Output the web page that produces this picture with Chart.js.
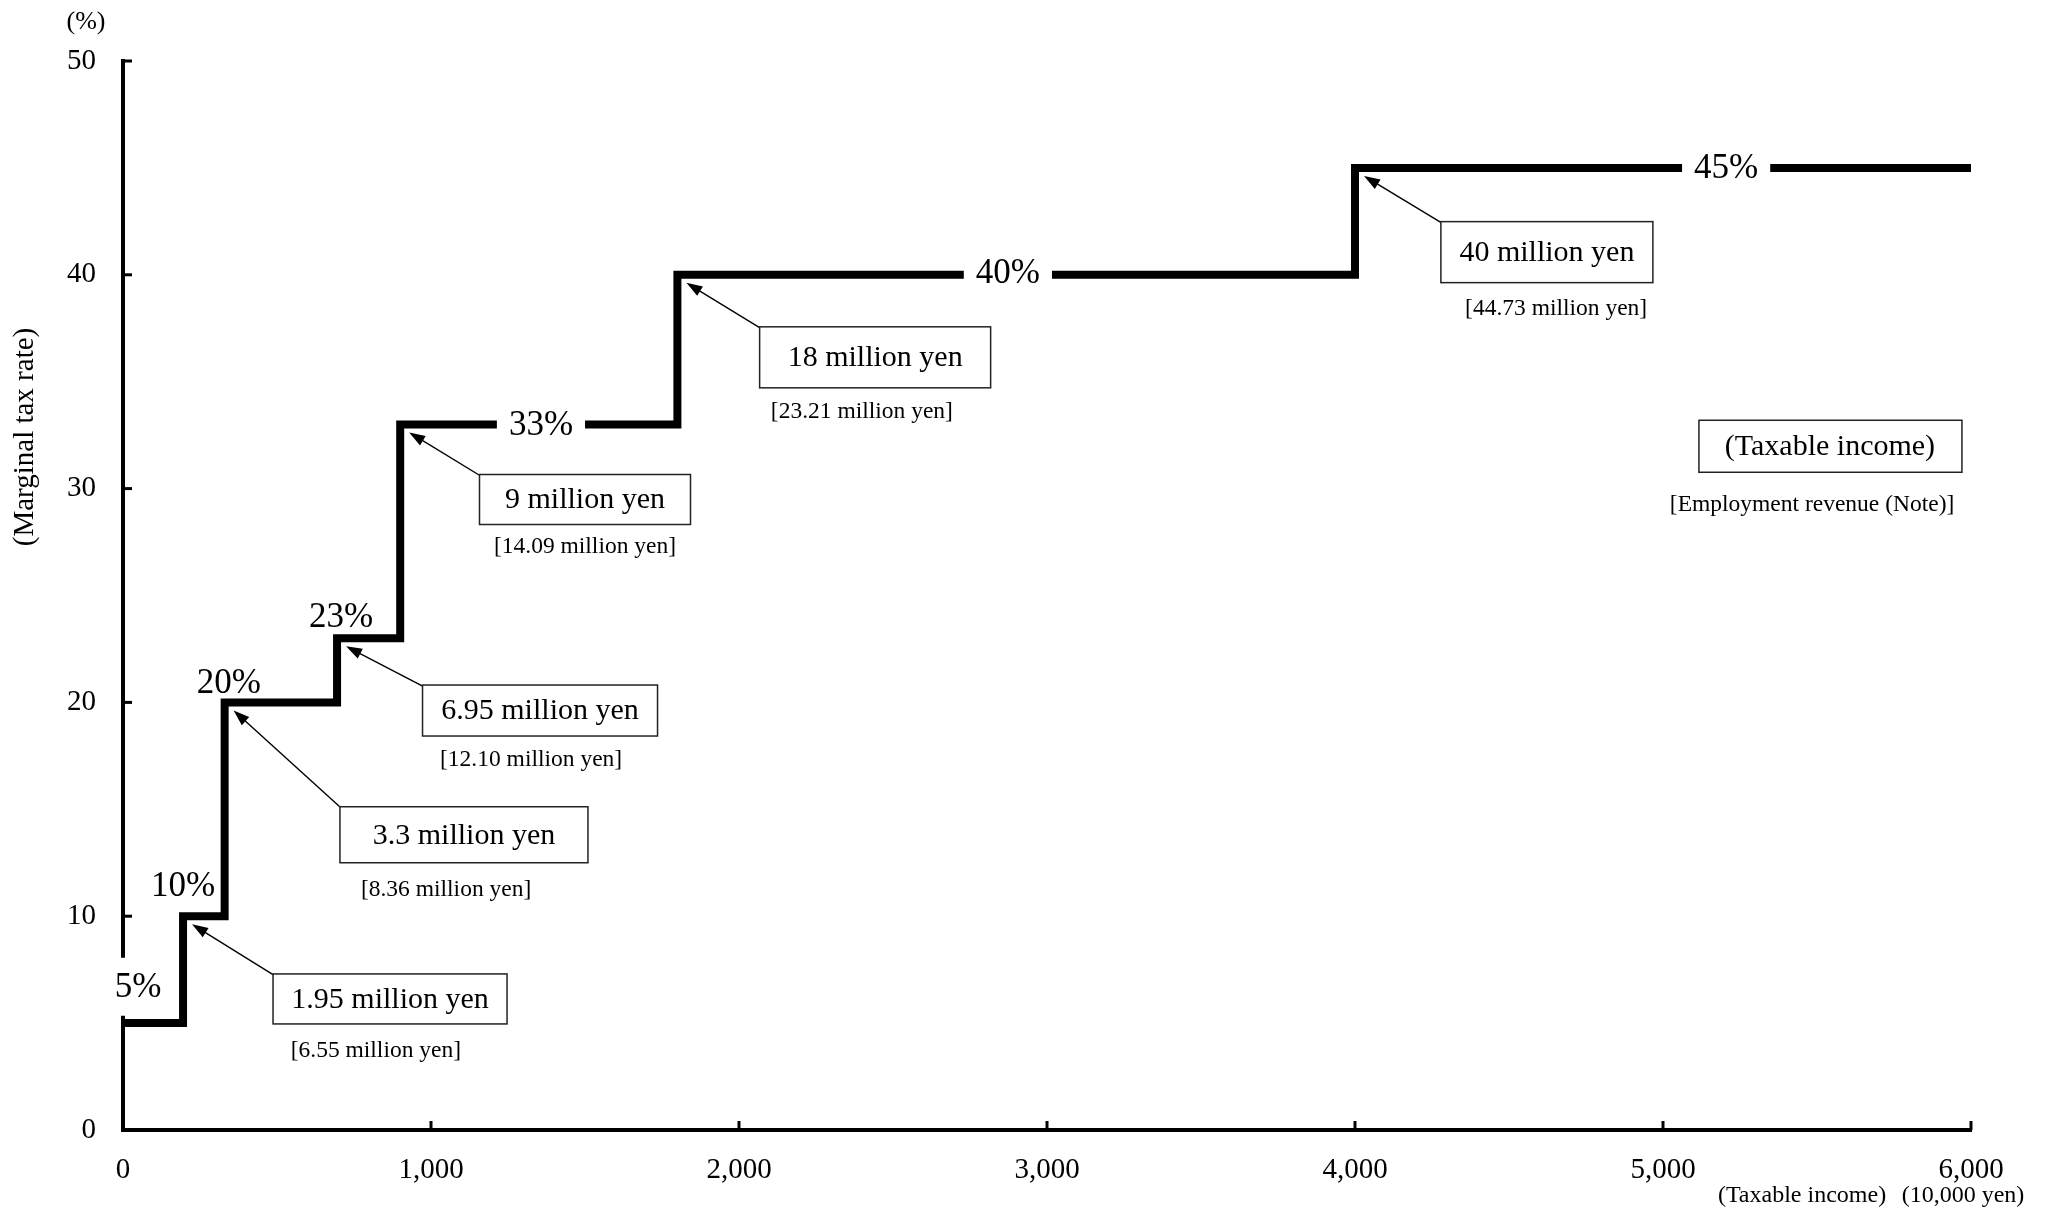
<!DOCTYPE html>
<html>
<head>
<meta charset="utf-8">
<script src="https://cdn.jsdelivr.net/npm/chart.js@4.4.1/dist/chart.umd.min.js"></script>
<style>
  body { margin: 0; background: #fff; }
  #wrap { width: 2069px; height: 1212px; position: relative; }
</style>
</head>
<body>
<div id="wrap"><canvas id="myChart"></canvas></div>
<script>
// Declaration

const bracketStart = [0, 195, 330, 695, 900, 1800, 4000, 6000];
const marginalRate = [5, 10, 20, 23, 33, 40, 45, 45];
const rateLabels = ["5%", "10%", "20%", "23%", "33%", "40%", "45%"];
const thresholdLabels = ["1.95 million yen", "3.3 million yen", "6.95 million yen", "9 million yen", "18 million yen", "40 million yen"];
const revenueLabels = ["[6.55 million yen]", "[8.36 million yen]", "[12.10 million yen]", "[14.09 million yen]", "[23.21 million yen]", "[44.73 million yen]"];
const xTicks = [0, 1000, 2000, 3000, 4000, 5000, 6000];
const yTicks = [0, 10, 20, 30, 40, 50];

const serif = "'Liberation Serif', 'Times New Roman', serif";

// where the text goes (data units), box sizes in px
const rateSpots = [[49, 6.7], [195, 11.4], [344, 20.9], [708, 24.0], [1357, 33.0], [2873, 40.1], [5205, 45.0]];
const rateBacked = [true, false, false, false, true, true, true];
const boxSpots = [[867, 6.13, 234, 50], [1107, 13.81, 248, 56], [1354, 19.62, 235, 51], [1500, 29.49, 211, 50], [2442, 36.14, 231, 61], [4623, 41.06, 212, 61]];
const subSpots = [[821, 3.7], [1049, 11.24], [1325, 17.32], [1500, 27.29], [2399, 33.61], [4653, 38.39]];

// Overlay: inside ticks, rate labels, arrows, boxes, captions

const arrow = (ctx, x1, y1, x2, y2) => {
  const a = Math.atan2(y2 - y1, x2 - x1);
  ctx.beginPath();
  ctx.moveTo(x1, y1);
  ctx.lineTo(x2 - 12 * Math.cos(a), y2 - 12 * Math.sin(a));
  ctx.lineWidth = 1.4;
  ctx.stroke();
  ctx.beginPath();
  ctx.moveTo(x2, y2);
  ctx.lineTo(x2 - 16 * Math.cos(a) + 5.5 * Math.sin(a), y2 - 16 * Math.sin(a) - 5.5 * Math.cos(a));
  ctx.lineTo(x2 - 16 * Math.cos(a) - 5.5 * Math.sin(a), y2 - 16 * Math.sin(a) + 5.5 * Math.cos(a));
  ctx.closePath();
  ctx.fill();
};

const overlay = {
  id: "overlay",
  afterDatasetsDraw(chart) {
    const { ctx, scales: { x, y } } = chart;
    ctx.save();
    ctx.strokeStyle = "#000";
    ctx.fillStyle = "#000";

    // tick marks point inward
    ctx.lineWidth = 3;
    xTicks.slice(1).forEach((v) => {
      const px = x.getPixelForValue(v);
      ctx.beginPath();
      ctx.moveTo(px, y.bottom);
      ctx.lineTo(px, y.bottom - 9);
      ctx.stroke();
    });
    yTicks.slice(1).forEach((v) => {
      const py = y.getPixelForValue(v);
      ctx.beginPath();
      ctx.moveTo(x.left, py);
      ctx.lineTo(x.left + 9, py);
      ctx.stroke();
    });

    // rate labels, some sit on a white patch that cuts the line
    ctx.font = `35px ${serif}`;
    ctx.textAlign = "center";
    ctx.textBaseline = "middle";
    rateLabels.forEach((t, i) => {
      const px = x.getPixelForValue(rateSpots[i][0]);
      const py = y.getPixelForValue(rateSpots[i][1]);
      if (rateBacked[i]) {
        const w = ctx.measureText(t).width + 24;
        ctx.fillStyle = "#fff";
        ctx.fillRect(px - w / 2, py - 29, w, 58);
      }
      ctx.fillStyle = "#000";
      ctx.fillText(t, px, py + 1);
    });

    // arrows from boxes to the step corners
    thresholdLabels.forEach((t, i) => {
      const [bx, by, bw, bh] = boxSpots[i];
      const cx = x.getPixelForValue(bx);
      const cy = y.getPixelForValue(by);
      const tipX = x.getPixelForValue(bracketStart[i + 1]) + 9;
      const tipY = y.getPixelForValue(marginalRate[i + 1]) + 8;
      arrow(ctx, cx - bw / 2 + 2, cy - bh / 2 + 2, tipX, tipY);
    });

    // threshold boxes
    ctx.font = `30px ${serif}`;
    thresholdLabels.forEach((t, i) => {
      const [bx, by, bw, bh] = boxSpots[i];
      const cx = x.getPixelForValue(bx);
      const cy = y.getPixelForValue(by);
      ctx.fillStyle = "#fff";
      ctx.fillRect(cx - bw / 2, cy - bh / 2, bw, bh);
      ctx.lineWidth = 1.5;
      ctx.strokeStyle = "#222";
      ctx.strokeRect(cx - bw / 2, cy - bh / 2, bw, bh);
      ctx.fillStyle = "#000";
      ctx.fillText(t, cx, cy + 1);
    });

    // legend-ish box
    const lx = x.getPixelForValue(5542);
    const ly = y.getPixelForValue(31.98);
    ctx.fillStyle = "#fff";
    ctx.fillRect(lx - 131, ly - 26, 263, 52);
    ctx.strokeRect(lx - 131, ly - 26, 263, 52);
    ctx.fillStyle = "#000";
    ctx.fillText("(Taxable income)", lx, ly + 1);

    // revenue sub labels
    ctx.font = `23.5px ${serif}`;
    revenueLabels.forEach((t, i) => {
      ctx.fillText(t, x.getPixelForValue(subSpots[i][0]), y.getPixelForValue(subSpots[i][1]));
    });
    ctx.fillText("[Employment revenue (Note)]", x.getPixelForValue(5484), y.getPixelForValue(29.26));

    // axis captions
    ctx.font = `26px ${serif}`;
    ctx.fillText("(%)", 86, 22);
    ctx.font = `24px ${serif}`;
    ctx.fillText("(Taxable income)", 1802, 1196);
    ctx.fillText("(10,000 yen)", 1963, 1196);
    ctx.save();
    ctx.translate(25, 437);
    ctx.rotate(-Math.PI / 2);
    ctx.font = `29px ${serif}`;
    ctx.fillText("(Marginal tax rate)", 0, 0);
    ctx.restore();

    ctx.restore();
  },
};

// Chart

const data = {
  datasets: [
    {
      label: "Marginal tax rate",
      data: bracketStart.map((v, i) => ({ x: v, y: marginalRate[i] })),
      stepped: "before",
      borderColor: "#000",
      borderWidth: 8,
      borderJoinStyle: "miter",
      borderCapStyle: "butt",
      pointRadius: 0,
      fill: false,
    },
  ],
};

const config = {
  type: "line",
  data,
  options: {
    responsive: true,
    maintainAspectRatio: false,
    animation: false,
    layout: { padding: { top: 61, right: 98, left: 0, bottom: 0 } },
    plugins: { legend: { display: false }, tooltip: { enabled: false } },
    scales: {
      x: {
        type: "linear",
        min: 0,
        max: 6000,
        afterBuildTicks: (scale) => {
          scale.ticks = xTicks.map((v) => ({ value: v }));
        },
        afterFit: (scale) => {
          scale.height = 82;
        },
        grid: { display: false },
        border: { color: "#000", width: 4 },
        ticks: {
          color: "#000",
          padding: 15,
          maxRotation: 0,
          font: { family: serif, size: 29 },
          callback: (v) => v.toLocaleString("en-US"),
        },
      },
      y: {
        min: 0,
        max: 50,
        afterBuildTicks: (scale) => {
          scale.ticks = yTicks.map((v) => ({ value: v }));
        },
        afterFit: (scale) => {
          scale.width = 123;
        },
        grid: { display: false },
        border: { color: "#000", width: 4 },
        ticks: {
          color: "#000",
          padding: 19,
          font: { family: serif, size: 29 },
        },
      },
    },
  },
  plugins: [overlay],
};

const myChart = new Chart(document.getElementById("myChart"), config);
</script>
</body>
</html>
